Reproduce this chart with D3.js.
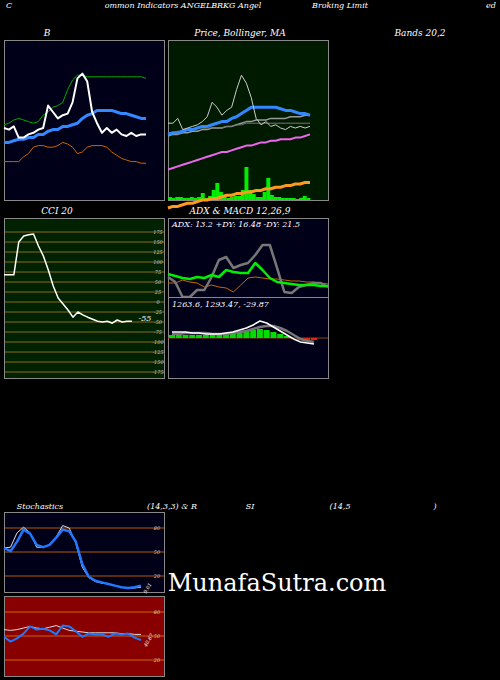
<!DOCTYPE html><html><head><meta charset="utf-8">
<script src="https://cdn.jsdelivr.net/npm/d3@7"></script>
<style>body{margin:0;background:#000}svg{display:block}text{font-family:"DejaVu Serif","Liberation Serif",serif;font-style:italic;fill:#fff}</style>
</head><body><svg id="c" width="500" height="680"></svg>
<script>
// Bollinger panel (values in panel units 0..100)
const bbPrice=[45,44,46,39,39,41,42,44,45,59,55,51,53,54,61,76,79,74,55,48,42,45,42,44,41,40,42,40,41,41];
const bbUpper=[47,48,50,51,50,49,48,49,53,55,58,59,61,69,75,78,78,77,77,77,77,77,77,77,77,77,77,77,77,76];
const bbMid=[36,36,37,38,38,39,39,41,41,43,44,44,46,46,47,48,51,53,54,56,56,56,56,55,54,54,53,52,51,51];
const bbLower=[24,24,24,24,27,29,33,34,34,33,33,34,36,35,33,29,30,33,34,34,34,33,30,28,26,25,24,24,23,23];
// Price / MA panel
const pPrice=[48,48,51,44,45,46,47,49,52,61,58,53,56,58,69,78,73,64,51,47,49,46,47,45,44,46,45,46,45,46];
const pMa1=[41,42,42,43,44,44,45,46,46,47,48,49,49,51,52,54,56,58,58,58,58,58,58,57,56,56,55,54,54,53];
const pMa2=[40,41,41,42,42,43,43,44,44,45,45,45,46,46,47,48,49,49,50,50,50,51,51,51,51,52,52,52,53,53];
const pMa3=[42,42,43,43,44,44,45,45,45,45,45,45,46,46,47,47,48,48,48,48,48,48,48,48,48,48,48,48,48,48];
const pMa4=[19,20,21,22,23,24,25,26,27,28,29,30,30,31,32,33,34,34,35,36,36,37,37,38,38,38,39,39,40,41];
const pMa5=[-5,-4,-4,-3,-2,-2,-1,0,0,1,1,2,3,3,4,4,5,5,6,6,7,7,8,8,9,9,10,10,11,11];
const volume=[3,2,3,3,2,2,3,2,3,7,2,4,10,17,8,3,2,3,4,4,10,33,10,6,3,3,8,22,5,3,3,2,2,2,2,1,2,4,2];
// CCI
const cci=[68,68,68,150,165,168,170,140,115,80,40,10,-5,-20,-38,-25,-32,-38,-43,-48,-50,-48,-53,-45,-50,-48,-48];
const cciTicks=[175,150,125,100,75,50,25,0,-25,-50,-75,-100,-125,-150,-175];
// ADX (pixel units above panel bottom)
const adx=[20,15,0,0,7,7,20,37,40,29,32,34,42,52,52,29,5,4,10,12,14,14,10];
const pdi=[23,21,19,18,20,19,22,20,27,25,24,24,34,27,19,15,14,13,12,12,12,11,11];
const mdi=[14,14,17,15,14,10,12,10,9,5,12,19,20,19,18,18,17,16,16,15,15,14,13];
// MACD
const macd=[6,6,6,5,5,4,4,4,5,6,8,10,13,17,15,11,7,3,-1,-4,-5,-6];
const signal=[4,4,5,5,5,5,4,4,4,5,6,7,9,11,12,12,10,7,3,-1,-3,-4];
const hist=[3,3,3,3,3,3,3,3,4,5,6,7,8,9,8,6,4,2,0,-2,-2,-2];
// Stochastics & RSI
const stochK=[55,56,74,81,74,56,56,59,69,83,80,61,31,18,13,11,10,8,6,5,5,6];
const stochD=[55,51,63,78,73,59,56,59,68,78,76,63,35,19,14,12,10,8,6,5,6,8];
const rsi=[49,43,47,53,62,58,59,57,52,63,62,56,49,53,52,52,49,53,52,53,48,45];
const rsiMa=[58,57,58,60,62,60,59,61,63,60,57,56,55,54,54,54,54,54,53,53,52,52];
const levels=[80,50,20];

const svg=d3.select("#c");
function panel(x,y,w,h,fill){svg.append("rect").attr("x",x+.5).attr("y",y+.5).attr("width",w).attr("height",h).attr("fill",fill).attr("stroke","#888");}
function txt(x,y,s,size,anchor,col){return svg.append("text").attr("x",x).attr("y",y).attr("font-size",size||9).attr("text-anchor",anchor||"middle").style("fill",col||"#fff").text(s);}
function line(data,xs,ys,col,wd){svg.append("path").datum(data).attr("fill","none").attr("stroke",col).attr("stroke-width",wd).attr("stroke-linejoin","round")
 .attr("d",d3.line().x((d,i)=>xs(i)).y(d=>ys(d)));}

// titles
txt(6,8,"C",8,"start");txt(183,8,"ommon  Indicators ANGELBRKG Angel",8);txt(340,8,"Broking Limit",8);txt(486,8,"ed",8,"start");
txt(47,36,"B",9);txt(240,36,"Price,  Bollinger, MA",9);txt(420,36,"Bands 20,2",9);
txt(57,214,"CCI 20",9);txt(240,214,"ADX  & MACD 12,26,9",9);
txt(40,509,"Stochastics",8);txt(172,509,"(14,3,3) & R",8);txt(250,509,"SI",8);txt(340,509,"(14,5",8);txt(435,509,")",8);

// Panel 1
panel(4,40,160,160,"#000018");
let x1=d3.scaleLinear().domain([0,bbPrice.length-1]).range([4,146]);
let y1=d3.scaleLinear().domain([0,100]).range([200,40]);
line(bbUpper,x1,y1,"#00aa00",1);line(bbLower,x1,y1,"#cc6600",1);
line(bbMid,x1,y1,"#3388ff",3);line(bbPrice,x1,y1,"#fff",2);

// Panel 2
panel(168,40,160,160,"#001a00");
let x2=d3.scaleLinear().domain([0,pPrice.length-1]).range([168,310]);
let xv=d3.scaleBand().domain(d3.range(volume.length)).range([168,310]).padding(0);
svg.append("g").selectAll("rect").data(volume).join("rect").attr("x",(d,i)=>xv(i)).attr("width",xv.bandwidth()+.3)
 .attr("y",d=>200-d).attr("height",d=>d).attr("fill","#00ee00");
line(pMa5,x2,y1,"#ff9922",3);
line(pMa4,x2,y1,"#ee66ee",2);line(pMa2,x2,y1,"#999",1.5);line(pMa3,x2,y1,"#777",1);
line(pMa1,x2,y1,"#3388ff",3);line(pPrice,x2,y1,"#ccc",1);

// CCI
panel(4,218,160,160,"#002200");
let yc=d3.scaleLinear().domain([-175,175]).range([372,232]);
cciTicks.forEach(t=>{svg.append("line").attr("x1",5).attr("x2",164).attr("y1",yc(t)).attr("y2",yc(t)).attr("stroke","#8b6914");
 txt(158,yc(t)+2,t,5,"middle","#ccc");});
let xc=d3.scaleLinear().domain([0,cci.length-1]).range([4,132]);
line(cci,xc,yc,"#fff",1.5);
txt(145,321,"-55",8);

// ADX
panel(168,218,160,79,"#000018");
let xa=d3.scaleLinear().domain([0,adx.length-1]).range([168,328]);
let ya=d3.scaleLinear().domain([0,79]).range([297,218]);
line(mdi,xa,ya,"#cc6600",1);line(adx,xa,ya,"#777",2.5);line(pdi,xa,ya,"#00ee00",2.5);
txt(172,227,"ADX: 13.2   +DY: 16.48   -DY: 21.5",8,"start");
// MACD
panel(168,297,160,81,"#000018");
let xm=d3.scaleLinear().domain([0,macd.length-1]).range([172,314]);
let ym=d3.scaleLinear().domain([0,-40]).range([338,378]);
svg.append("line").attr("x1",168).attr("x2",328).attr("y1",338).attr("y2",338).attr("stroke","#8b4513");
svg.append("g").selectAll("rect").data(hist).join("rect").attr("x",(d,i)=>xm(i)-3).attr("width",6)
 .attr("y",d=>d>=0?ym(d):338).attr("height",d=>Math.abs(ym(d)-338)).attr("fill",d=>d>=0?"#00dd00":"#ee2200");
line(signal,xm,ym,"#777",2.5);line(macd,xm,ym,"#fff",1.5);
txt(172,307,"1263.6,  1293.47,  -29.87",8,"start");

// Stochastics
panel(4,512,160,80,"#000018");
let ys=d3.scaleLinear().domain([0,100]).range([592,512]);
let xs=d3.scaleLinear().domain([0,stochK.length-1]).range([4,141]);
levels.forEach(l=>{svg.append("line").attr("x1",5).attr("x2",164).attr("y1",ys(l)).attr("y2",ys(l)).attr("stroke","#b35900");
 txt(157,ys(l)+2,l,5,"middle","#ccc");});
line(stochK,xs,ys,"#ddd",1);line(stochD,xs,ys,"#2277ff",2.5);
txt(0,0,"9.01",5).attr("transform","translate(149,589) rotate(-60)");
// RSI
panel(4,596,160,80,"#880000");
let yr=d3.scaleLinear().domain([0,100]).range([676,596]);
levels.forEach(l=>{svg.append("line").attr("x1",5).attr("x2",164).attr("y1",yr(l)).attr("y2",yr(l)).attr("stroke","#cc6600");
 txt(157,yr(l)+2,l,5,"middle","#ccc");});
line(rsiMa,xs,yr,"#ddd",1);line(rsi,xs,yr,"#2277ff",2);
txt(0,0,"40.67",5).attr("transform","translate(150,641) rotate(-60)");

txt(277,591,"MunafaSutra.com",24).style("font-style","normal").attr("font-family","Liberation Serif, serif");
</script></body></html>
